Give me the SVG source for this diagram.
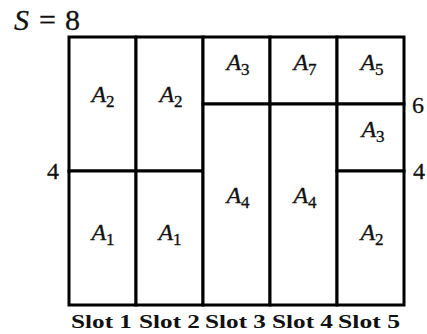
<svg xmlns="http://www.w3.org/2000/svg" width="427" height="334" viewBox="0 0 427 334">
<style>
.cell{fill:#fff;stroke:#000;stroke-width:3}
.lbl{font-family:'Liberation Serif','Times New Roman',Times,'DejaVu Serif',serif;font-style:italic;font-size:24px;text-anchor:middle;fill:#111;stroke:#111;stroke-width:0.35}
.sub{font-style:normal;font-size:17px}
.num{font-family:'Liberation Serif','Times New Roman',Times,'DejaVu Serif',serif;font-size:24px;text-anchor:middle;fill:#111;stroke:#111;stroke-width:0.3}
.slot{font-family:'Liberation Serif','Times New Roman',Times,'DejaVu Serif',serif;font-weight:bold;font-size:18px;fill:#111}
</style>
<rect width="427" height="334" fill="#fff"/>
<g id="cells">
<g id="s1-a2"><rect class="cell" x="69" y="37" width="67" height="134"/><text class="lbl" x="103" y="102">A<tspan class="sub" dy="5">2</tspan></text></g>
<g id="s1-a1"><rect class="cell" x="69" y="171" width="67" height="134"/><text class="lbl" x="103" y="240">A<tspan class="sub" dy="5">1</tspan></text></g>
<g id="s2-a2"><rect class="cell" x="136" y="37" width="67" height="134"/><text class="lbl" x="171" y="102">A<tspan class="sub" dy="5">2</tspan></text></g>
<g id="s2-a1"><rect class="cell" x="136" y="171" width="67" height="134"/><text class="lbl" x="170" y="240">A<tspan class="sub" dy="5">1</tspan></text></g>
<g id="s3-a3"><rect class="cell" x="203" y="37" width="67" height="67"/><text class="lbl" x="238" y="70">A<tspan class="sub" dy="5">3</tspan></text></g>
<g id="s3-a4"><rect class="cell" x="203" y="104" width="67" height="201"/><text class="lbl" x="238" y="203">A<tspan class="sub" dy="5">4</tspan></text></g>
<g id="s4-a7"><rect class="cell" x="270" y="37" width="67" height="67"/><text class="lbl" x="305" y="70">A<tspan class="sub" dy="5">7</tspan></text></g>
<g id="s4-a4"><rect class="cell" x="270" y="104" width="67" height="201"/><text class="lbl" x="305" y="203">A<tspan class="sub" dy="5">4</tspan></text></g>
<g id="s5-a5"><rect class="cell" x="337" y="37" width="67" height="67"/><text class="lbl" x="372" y="70">A<tspan class="sub" dy="5">5</tspan></text></g>
<g id="s5-a3"><rect class="cell" x="337" y="104" width="67" height="67"/><text class="lbl" x="373" y="137">A<tspan class="sub" dy="5">3</tspan></text></g>
<g id="s5-a2"><rect class="cell" x="337" y="171" width="67" height="134"/><text class="lbl" x="372" y="240">A<tspan class="sub" dy="5">2</tspan></text></g>
</g>
<g id="connectors"/>
<g id="labels">
<text id="size" font-family="Liberation Serif, Times New Roman, serif" font-size="30" fill="#111" stroke="#111" stroke-width="0.3" x="14" y="30"><tspan font-style="italic">S</tspan><tspan x="39">=</tspan><tspan x="65">8</tspan></text>
<text class="num" x="53" y="179">4</text>
<text class="num" x="418" y="113">6</text>
<text class="num" x="419" y="179">4</text>
<text class="slot" x="71" y="328" textLength="61" lengthAdjust="spacingAndGlyphs">Slot 1</text>
<text class="slot" x="139" y="328" textLength="61" lengthAdjust="spacingAndGlyphs">Slot 2</text>
<text class="slot" x="205" y="328" textLength="61" lengthAdjust="spacingAndGlyphs">Slot 3</text>
<text class="slot" x="272" y="328" textLength="61" lengthAdjust="spacingAndGlyphs">Slot 4</text>
<text class="slot" x="338" y="328" textLength="62" lengthAdjust="spacingAndGlyphs">Slot 5</text>
</g>
</svg>
